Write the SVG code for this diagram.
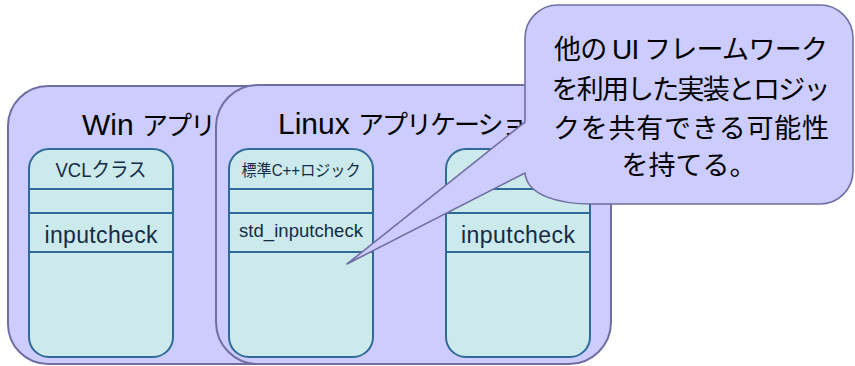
<svg xmlns="http://www.w3.org/2000/svg" width="855" height="366" viewBox="0 0 855 366">
  <style>
    .app { fill: #ccccff; stroke: #716ea3; stroke-width: 2; }
    .cls { fill: #cce9ec; stroke: #2f6a98; stroke-width: 2; }
    .sep { stroke: #2f6a98; stroke-width: 2; fill: none; }
    .title { font-family: "Liberation Sans", "Noto Sans CJK JP", sans-serif; fill: #000; }
    .title .jp { font-family: "Noto Sans CJK JP", sans-serif; font-size: 26px; letter-spacing: -2px; }
    .label { font-family: "Liberation Sans", "Noto Sans CJK JP", sans-serif; fill: #132c47; text-anchor: middle; }
    .bubble { fill: #ccccff; stroke: #716ea3; stroke-width: 1.6; stroke-linejoin: round; }
    .note { font-family: "Noto Sans CJK JP", sans-serif; font-size: 27px; fill: #000; text-anchor: middle; }
  </style>

  <!-- Windows application container -->
  <g id="win-app">
    <rect class="app" x="8" y="86" width="396" height="278" rx="40"/>
    <text class="title" x="82" y="135" font-size="30">Win <tspan class="jp">アプリケーション</tspan></text>
  </g>

  <!-- VCL class inside the Windows application -->
  <g id="vcl-class">
    <rect class="cls" x="29" y="149" width="144" height="208" rx="20"/>
    <path class="sep" d="M29 189H173M29 213H173M29 252H173"/>
    <text class="label" x="101" y="177" font-size="20" textLength="91" lengthAdjust="spacingAndGlyphs">VCLクラス</text>
    <text class="label" x="101" y="243" font-size="23" textLength="113">inputcheck</text>
  </g>

  <!-- Linux application container -->
  <g id="linux-app">
    <rect class="app" x="216" y="85" width="395" height="279" rx="42"/>
    <text class="title" x="278" y="134" font-size="30">Linux <tspan class="jp">アプリケーション</tspan></text>
  </g>

  <!-- Standard C++ logic class -->
  <g id="logic-class">
    <rect class="cls" x="229" y="149" width="144" height="208" rx="20"/>
    <path class="sep" d="M229 189H373M229 213H373M229 252H373"/>
    <text class="label" x="301" y="176" font-size="16" textLength="119" lengthAdjust="spacingAndGlyphs">標準C++ロジック</text>
    <text class="label" x="301" y="237" font-size="18.5" textLength="124">std_inputcheck</text>
  </g>

  <!-- UI-side class in the Linux application -->
  <g id="ui-class">
    <rect class="cls" x="446" y="149" width="144" height="208" rx="20"/>
    <path class="sep" d="M446 189H590M446 213H590M446 252H590"/>
    <text class="label" x="518" y="243" font-size="23" textLength="114">inputcheck</text>
  </g>

  <!-- Speech-bubble note pointing at the shared logic -->
  <g id="callout">
    <path class="bubble" d="M558 5H820A33 33 0 0 1 853 38V171A33 33 0 0 1 820 204H592C560 204 527 196 525 173L347 264L525 122V38A33 33 0 0 1 558 5Z"/>
    <text class="note" x="691" y="59" textLength="274">他の <tspan font-family="Liberation Sans" font-size="28">UI</tspan> フレームワーク</text>
    <text class="note" x="691" y="99" textLength="279">を利用した実装とロジッ</text>
    <text class="note" x="691" y="138" textLength="276">クを共有できる可能性</text>
    <text class="note" x="689" y="175">を持てる。</text>
  </g>
</svg>
